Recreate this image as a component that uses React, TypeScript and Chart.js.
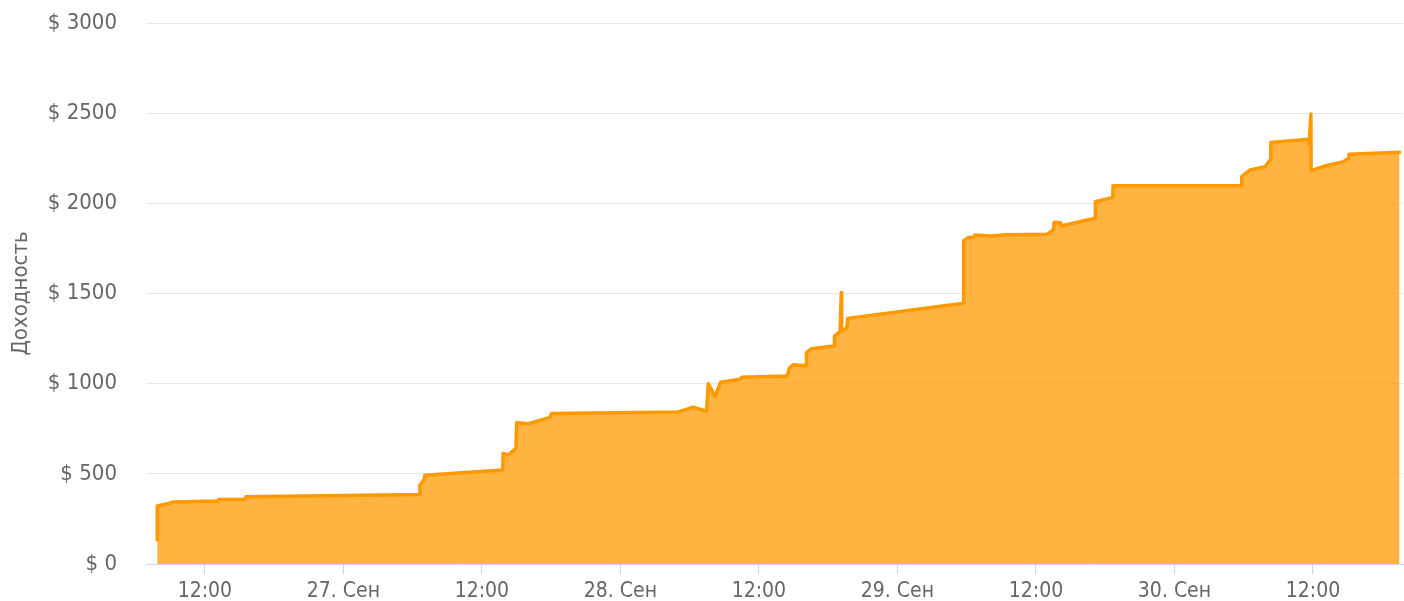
import React, { useEffect, useRef } from "react";
import { Chart, registerables } from "chart.js";

Chart.register(...registerables);

// hours since 26 Sep 00:00
const hours = [
  7.87, 7.88, 8.97, 9.25, 13.13, 13.21, 15.47, 15.55, 30.57, 30.63,
  30.98, 31.06, 37.8, 37.85, 38.28, 38.95, 39.01, 40.02, 41.9, 42.04,
  53.01, 54.31, 55.47, 55.61, 56.19, 56.69, 58.36, 58.51, 62.46, 62.63,
  62.98, 64.08, 64.12, 64.57, 66.51, 66.55, 67.03, 67.14, 67.17, 67.61,
  67.69, 77.71, 77.74, 78.14, 78.58, 78.72, 80.02, 81.47, 84.94, 85.51,
  85.57, 86.15, 86.18, 89.12, 89.15, 90.66, 90.68, 101.77, 101.83, 102.55,
  103.85, 104.29, 104.35, 107.61, 107.67, 107.82, 107.84, 109.05, 110.64, 111.07,
  111.12, 115.5,
];

const profit = [
  133, 322, 337, 344, 349, 358, 359, 373, 386, 438,
  466, 492, 521, 614, 604, 641, 784, 778, 813, 835,
  843, 869, 847, 1000, 930, 1008, 1024, 1035, 1043, 1085,
  1105, 1100, 1172, 1194, 1209, 1264, 1288, 1505, 1294, 1307,
  1362, 1446, 1793, 1810, 1812, 1824, 1819, 1826, 1828, 1852,
  1895, 1893, 1874, 1917, 2009, 2033, 2098, 2098, 2148, 2185,
  2203, 2240, 2338, 2355, 2325, 2495, 2181, 2207, 2231, 2250,
  2272, 2283,
];

const xTickValues = [12, 24, 36, 48, 60, 72, 84, 96, 108];
const xTickLabels = [
  "12:00", "27. Сен", "12:00", "28. Сен", "12:00", "29. Сен", "12:00", "30. Сен", "12:00",
];
const yTickValues = [0, 500, 1000, 1500, 2000, 2500, 3000];

const FONT = "'DejaVu Sans Condensed', 'DejaVu Sans', sans-serif";

export default function App() {
  const ref = useRef<HTMLCanvasElement | null>(null);

  useEffect(() => {
    if (!ref.current) return;
    const chart = new Chart(ref.current, {
      type: "line",
      data: {
        datasets: [
          {
            data: hours.map((h, i) => ({ x: h, y: profit[i] })),
            borderColor: "#ff9900",
            backgroundColor: "rgba(255,153,0,0.75)",
            borderWidth: 3.5,
            borderJoinStyle: "round",
            borderCapStyle: "round",
            fill: "origin",
            pointRadius: 0,
            tension: 0,
          },
        ],
      },
      options: {
        animation: false,
        responsive: false,
        layout: { padding: { top: 23, right: 1, bottom: 0, left: 0 } },
        plugins: {
          legend: { display: false },
          tooltip: { enabled: false },
        },
        scales: {
          x: {
            type: "linear",
            min: 6.9,
            max: 115.8,
            afterBuildTicks: (scale: any) => {
              scale.ticks = xTickValues.map((v) => ({ value: v }));
            },
            afterFit: (scale: any) => {
              scale.height = 37;
            },
            ticks: {
              autoSkip: false,
              maxRotation: 0,
              padding: 5,
              color: "#666666",
              font: { family: FONT, size: 21 },
              callback: (v: any) => {
                const i = xTickValues.indexOf(Number(v));
                return i >= 0 ? xTickLabels[i] : "";
              },
            },
            grid: {
              display: true,
              drawOnChartArea: false,
              drawTicks: true,
              tickLength: 10,
              tickColor: "#ccd6eb",
              tickWidth: 1,
            },
            border: { display: true, color: "#ccd6eb", width: 1 },
          },
          y: {
            min: 0,
            max: 3000,
            afterBuildTicks: (scale: any) => {
              scale.ticks = yTickValues.map((v) => ({ value: v }));
            },
            afterFit: (scale: any) => {
              scale.width = 146;
            },
            ticks: {
              padding: 0,
              color: "#666666",
              font: { family: FONT, size: 22 },
              callback: (v: any) => "$ " + v,
            },
            grid: {
              color: (ctx: any) => (ctx.tick && ctx.tick.value === 0 ? "rgba(0,0,0,0)" : "#e6e6e6"),
              lineWidth: 1,
              drawTicks: true,
              tickLength: 29,
              tickColor: "rgba(0,0,0,0)",
            },
            border: { display: false },
            title: {
              display: true,
              text: "Доходность",
              color: "#666666",
              font: { family: FONT, size: 22 },
              padding: { top: 8, bottom: 0 },
            },
          },
        },
      },
    });
    return () => chart.destroy();
  }, []);

  return (
    <div style={{ position: "absolute", left: 0, top: 0, width: 1404, height: 601, background: "#fff" }}>
      <canvas ref={ref} width={1404} height={601} style={{ display: "block", width: 1404, height: 601 }} />
    </div>
  );
}
